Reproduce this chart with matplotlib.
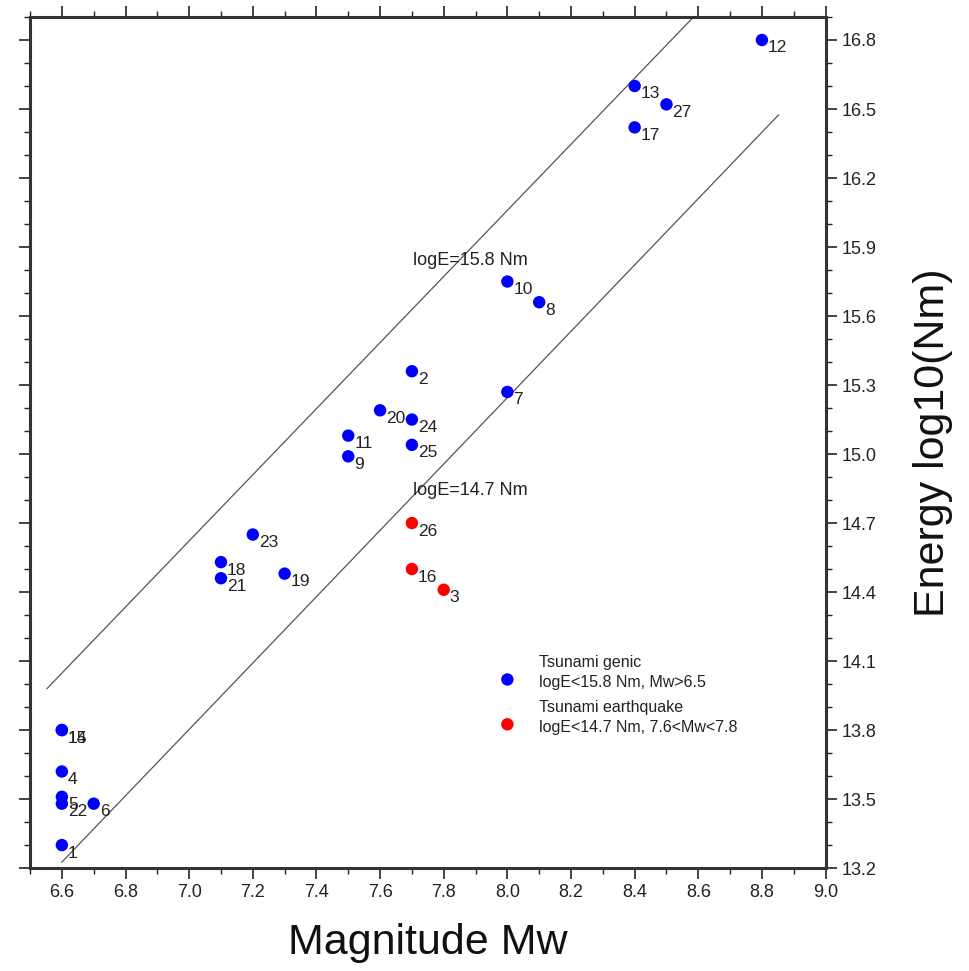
import matplotlib
matplotlib.use('Agg')
from matplotlib import pyplot as plt
from matplotlib.ticker import MultipleLocator
import numpy as np

# 数据
ids = ['12', '13', '27', '17', '10', '8', '2', '7', '20', '24', '11', '25', '9',
       '23', '18', '21', '19', '14', '15', '4', '5', '22', '6', '1']
mw = [8.8, 8.4, 8.5, 8.4, 8.0, 8.1, 7.7, 8.0, 7.6, 7.7, 7.5, 7.7, 7.5,
      7.2, 7.1, 7.1, 7.3, 6.6, 6.6, 6.6, 6.6, 6.6, 6.7, 6.6]
loge = [16.80, 16.60, 16.52, 16.42, 15.75, 15.66, 15.36, 15.27, 15.19, 15.15, 15.08, 15.04, 14.99,
        14.65, 14.53, 14.46, 14.48, 13.80, 13.80, 13.62, 13.51, 13.48, 13.48, 13.30]
red_ids = ['26', '16', '3']
red_mw = [7.7, 7.7, 7.8]
red_loge = [14.70, 14.50, 14.41]
# 两条参考线端点
upper_line_x = [6.553, 8.585]
upper_line_y = [13.98, 16.90]
lower_line_x = [6.60, 8.852]
lower_line_y = [13.226, 16.474]

plt.rcParams['font.family'] = ['Liberation Sans', 'DejaVu Sans']
fig = plt.figure(figsize=(9.69, 9.71), dpi=100)
ax = fig.add_axes([0.031, 0.106, 0.821, 0.8765])

ax.plot(upper_line_x, upper_line_y, color='#555555', lw=0.9)
ax.plot(lower_line_x, lower_line_y, color='#555555', lw=0.9)

ax.scatter(mw, loge, s=80, color='#0000ff', zorder=3, edgecolors='none')
ax.scatter(red_mw, red_loge, s=80, color='#ff0000', zorder=3, edgecolors='none')
for name, x, y in zip(ids + red_ids, mw + red_mw, loge + red_loge):
    ax.annotate(name, (x, y), xytext=(6, -8), textcoords='offset pixels',
                fontsize=12.5, ha='left', va='center', color='#222222')

ax.text(7.705, 15.84, 'logE=15.8 Nm', fontsize=13, color='#222222', va='center')
ax.text(7.705, 14.84, 'logE=14.7 Nm', fontsize=13, color='#222222', va='center')

# 图例
ax.scatter([8.0], [14.02], s=80, color='#0000ff', edgecolors='none')
ax.scatter([8.0], [13.825], s=80, color='#ff0000', edgecolors='none')
ax.text(8.1, 14.05, 'Tsunami genic\nlogE<15.8 Nm, Mw>6.5', fontsize=11.5, color='#222222',
        va='center', linespacing=1.4)
ax.text(8.1, 13.855, 'Tsunami earthquake\nlogE<14.7 Nm, 7.6<Mw<7.8', fontsize=11.5, color='#222222',
        va='center', linespacing=1.4)

ax.set_xlim(6.5, 9.0)
ax.set_ylim(13.2, 16.9)
ax.xaxis.set_major_locator(MultipleLocator(0.2))
ax.xaxis.set_minor_locator(MultipleLocator(0.1))
ax.yaxis.set_major_locator(MultipleLocator(0.3))
ax.yaxis.set_minor_locator(MultipleLocator(0.1))
ax.xaxis.set_major_formatter(lambda v, p: '%.1f' % v)
ax.yaxis.set_major_formatter(lambda v, p: '%.1f' % v)
ax.tick_params(which='both', direction='out', top=True, bottom=True, left=True, right=True,
               labelleft=False, labelright=True, labeltop=False, labelbottom=True,
               labelsize=13, colors='#222222')
ax.tick_params(which='major', length=8, width=1.2)
ax.tick_params(which='minor', length=4, width=1.0)
for s in ax.spines.values():
    s.set_linewidth(2.2)
    s.set_color('#333333')

ax.set_xlabel('Magnitude Mw', fontsize=31, color='#111111', labelpad=16)
ax.yaxis.set_label_position('right')
ax.set_ylabel('Energy log10(Nm)', fontsize=31, color='#111111', labelpad=26)

plt.savefig('out.png', dpi=100)
plt.close('all')
